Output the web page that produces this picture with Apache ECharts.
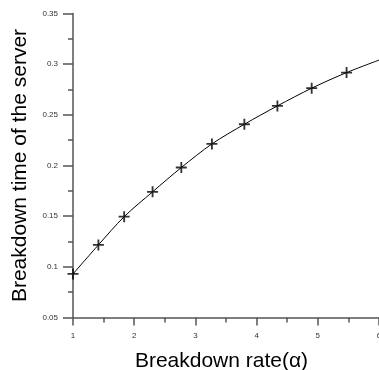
<!DOCTYPE html>
<html>
<head>
<meta charset="utf-8">
<script src="https://cdn.jsdelivr.net/npm/echarts@6/dist/echarts.min.js"></script>
<style>
  html, body { margin: 0; padding: 0; background: #fff; }
  #chart { width: 379px; height: 370px; }
</style>
</head>
<body>
<div id="chart"></div>
<script>
// marked points
const rateX = [1.0, 1.415, 1.836, 2.30, 2.77, 3.27, 3.80, 4.34, 4.90, 5.47];
const timeY = [0.093, 0.1216, 0.1495, 0.174, 0.198, 0.2213, 0.2407, 0.2588, 0.2763, 0.2917];
// curve continues to right edge
const curveEndX = 6.0;
const curveEndY = 0.304;

const xTicks = [1, 2, 3, 4, 5, 6];
const yTicks = [0.05, 0.1, 0.15, 0.2, 0.25, 0.3, 0.35];

const markPts = rateX.map((x, i) => [x, timeY[i]]);
const curvePts = markPts.concat([[curveEndX, curveEndY]]);

const font = '"Liberation Sans", Arial, sans-serif';
const axisCol = '#555';

const plus = 'path://M5,0 L7,0 L7,5 L12,5 L12,7 L7,7 L7,12 L5,12 L5,7 L0,7 L0,5 L5,5 Z';

let ec = echarts.init(document.getElementById('chart'));
ec.setOption({
    animation: false,
    grid: { left: 73, right: 0, top: 13.5, bottom: 52.5, containLabel: false, outerBoundsMode: 'none' },
    xAxis: {
        type: 'value',
        min: xTicks[0],
        max: xTicks[xTicks.length - 1],
        interval: 1,
        name: 'Breakdown rate(\u03b1)',
        nameLocation: 'middle',
        nameGap: 33,
        nameTextStyle: { fontFamily: font, fontSize: 21, color: '#000', padding: [0, 9, 0, 0] },
        axisLine: { lineStyle: { color: axisCol, width: 1.5 } },
        axisTick: { length: 8, lineStyle: { color: axisCol, width: 1.5 } },
        minorTick: { show: true, splitNumber: 2, length: 5, lineStyle: { color: axisCol, width: 1.5 } },
        axisLabel: { fontFamily: font, fontSize: 8, color: '#333', margin: 14 },
        splitLine: { show: false }
    },
    yAxis: {
        type: 'value',
        min: yTicks[0],
        max: yTicks[yTicks.length - 1],
        interval: 0.05,
        name: 'Breakdown time of the server',
        nameLocation: 'middle',
        nameGap: 42,
        nameTextStyle: { fontFamily: font, fontSize: 21, color: '#000' },
        axisLine: { show: true, lineStyle: { color: axisCol, width: 1.5 } },
        axisTick: { show: true, length: 10, lineStyle: { color: axisCol, width: 1.5 } },
        minorTick: { show: true, splitNumber: 2, length: 5, lineStyle: { color: axisCol, width: 1.5 } },
        axisLabel: {
            fontFamily: font, fontSize: 8, color: '#333', margin: 15,
            formatter: v => String(Math.round(v * 100) / 100)
        },
        splitLine: { show: false }
    },
    series: [
        {
            type: 'line',
            data: curvePts,
            smooth: 0.3,
            showSymbol: false,
            lineStyle: { color: '#000', width: 1 }
        },
        {
            type: 'scatter',
            data: markPts,
            symbol: plus,
            symbolSize: 11,
            itemStyle: { color: '#000' }
        }
    ]
});
</script>
</body>
</html>
